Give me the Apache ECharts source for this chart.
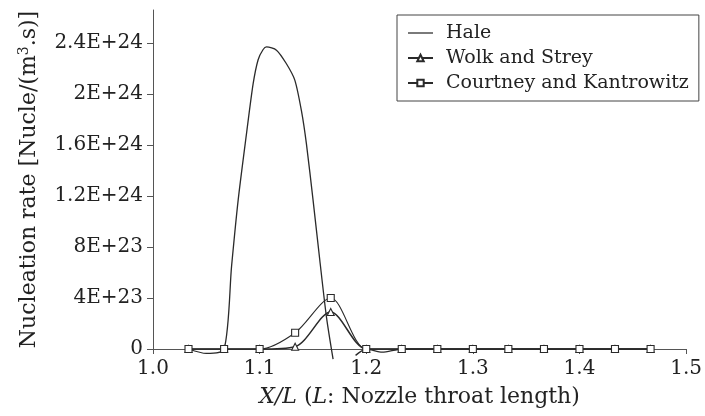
<!DOCTYPE html>
<html>
<head>
<meta charset="utf-8">
<script src="https://cdn.jsdelivr.net/npm/echarts@6/dist/echarts.min.js"></script>
<style>html,body{margin:0;padding:0;background:#fff;}#c{width:705px;height:416px;}</style>
</head>
<body>
<div id="c"></div>
<script>
// x positions of the marked points (X/L)
var xPoints = [1.0333, 1.0667, 1.1, 1.1333, 1.1667, 1.2, 1.2333, 1.2667, 1.3, 1.3333, 1.3667, 1.4, 1.4333, 1.4667];
// Wolk and Strey nucleation rate at xPoints
var wolkValues = [0, 0, 0, 1.8e22, 2.9e23, 0, 0, 0, 0, 0, 0, 0, 0, 0];
// Courtney and Kantrowitz nucleation rate at xPoints
var courtneyValues = [0, 0, 0, 1.28e23, 4.0e23, 0, 0, 0, 0, 0, 0, 0, 0, 0];
// Hale curve: x and rate (null = clipped part)
var haleX = [1.0333, 1.05, 1.0667, 1.0737, 1.0799, 1.0877, 1.0939, 1.0986, 1.1033, 1.1065, 1.1158, 1.125, 1.133, 1.1392, 1.1439, 1.1501, 1.1564, 1.1627, 1.1689, 1.178, 1.19, 1.2, 1.215, 1.2333, 1.2667, 1.3, 1.3333, 1.3667, 1.4, 1.4333, 1.4667];
var haleValues = [0, -3.5e22, 0, 6.5e23, 1.17e24, 1.69e24, 2.08e24, 2.27e24, 2.35e24, 2.37e24, 2.345e24, 2.24e24, 2.11e24, 1.87e24, 1.61e24, 1.17e24, 7.0e23, 2.5e23, -8.0e22, null, -5.0e22, 0, -2.5e22, 0, 0, 0, 0, 0, 0, 0, 0];
// axis ticks
var yTicks = [0, 4e23, 8e23, 1.2e24, 1.6e24, 2e24, 2.4e24];
var yTickLabels = ['0', '4E+23', '8E+23', '1.2E+24', '1.6E+24', '2E+24', '2.4E+24'];
var xTicks = [1.0, 1.1, 1.2, 1.3, 1.4, 1.5];
var xTickLabels = ['1.0', '1.1', '1.2', '1.3', '1.4', '1.5'];

var seriesNames = ['Hale', 'Wolk and Strey', 'Courtney and Kantrowitz'];

function pairs(xs, ys) {
  var out = [];
  for (var i = 0; i < xs.length; i++) out.push([xs[i], ys[i]]);
  return out;
}

var FONT = 'DejaVu Serif';
var INK = '#2a2a2a';
var AX = '#555';
var TXT = '#222';

var chart = echarts.init(document.getElementById('c'), null, {renderer: 'canvas'});
chart.setOption({
  animation: false,
  backgroundColor: '#fff',
  grid: {left: 153, right: 17, top: 10, bottom: 67},
  legend: {
    orient: 'vertical',
    left: 397, top: 15,
    padding: [8, 10, 8, 10],
    itemGap: 5,
    itemWidth: 25, itemHeight: 8,
    backgroundColor: '#fff',
    borderColor: '#444', borderWidth: 1, borderRadius: 0,
    data: [
      {name: seriesNames[0], icon: 'path://M0,0L100,0L100,5L0,5Z', itemStyle: {color: INK, borderWidth: 0}},
      {name: seriesNames[1]},
      {name: seriesNames[2]}
    ],
    textStyle: {fontFamily: FONT, fontSize: 19, color: TXT, lineHeight: 20, padding: [0, 0, 0, 8]}
  },
  xAxis: {
    type: 'value', min: 1.0, max: 1.5, interval: 0.1,
    name: '{i|X/L} ({i|L}: Nozzle throat length)',
    nameLocation: 'middle', nameGap: 37,
    nameTextStyle: {fontFamily: FONT, fontSize: 22, color: TXT,
      rich: {i: {fontFamily: FONT, fontStyle: 'italic', fontSize: 22, color: TXT}}},
    axisLine: {onZero: false, lineStyle: {color: AX, width: 1}},
    axisTick: {show: true, inside: false, length: 5, lineStyle: {color: AX}},
    axisLabel: {fontFamily: FONT, fontSize: 20, color: TXT, margin: 10,
      formatter: function (v) { var i = xTicks.findIndex(function (t) { return Math.abs(t - v) < 1e-9; }); return i >= 0 ? xTickLabels[i] : ''; }},
    splitLine: {show: false}
  },
  yAxis: {
    type: 'value', min: 0, max: 2.66e24,
    name: 'Nucleation rate [Nucle/(m{sup|3}.s)]',
    nameLocation: 'middle', nameGap: 112, nameRotate: 90,
    nameTextStyle: {fontFamily: FONT, fontSize: 22, color: TXT,
      rich: {sup: {fontFamily: FONT, fontSize: 14, color: TXT, padding: [0, 0, 10, 0]}}},
    axisLine: {show: true, lineStyle: {color: AX, width: 1}},
    axisTick: {show: true, inside: false, length: 6, customValues: yTicks, lineStyle: {color: AX}},
    axisLabel: {fontFamily: FONT, fontSize: 20, color: TXT, margin: 10, customValues: yTicks,
      formatter: function (v) { var i = yTicks.findIndex(function (t) { return Math.abs(t - v) < 1e18; }); return i >= 0 ? yTickLabels[i] : ''; }},
    splitLine: {show: false}
  },
  series: [
    {
      name: seriesNames[0], type: 'line', data: pairs(haleX, haleValues),
      symbol: 'none', smooth: 0.25, clip: false, connectNulls: false,
      lineStyle: {color: INK, width: 1.3}, itemStyle: {color: INK}, z: 3
    },
    {
      name: seriesNames[1], type: 'line', data: pairs(xPoints, wolkValues),
      symbol: 'triangle', symbolSize: 7, showAllSymbol: true, smooth: 0.3, clip: false,
      lineStyle: {color: INK, width: 1.5},
      itemStyle: {color: '#fff', borderColor: INK, borderWidth: 1.1}, z: 4
    },
    {
      name: seriesNames[2], type: 'line', data: pairs(xPoints, courtneyValues),
      symbol: 'rect', symbolSize: 7, showAllSymbol: true, smooth: 0.3, clip: false,
      lineStyle: {color: INK, width: 1.1},
      itemStyle: {color: '#fff', borderColor: INK, borderWidth: 1.1}, z: 5
    }
  ]
});
</script>
</body>
</html>
